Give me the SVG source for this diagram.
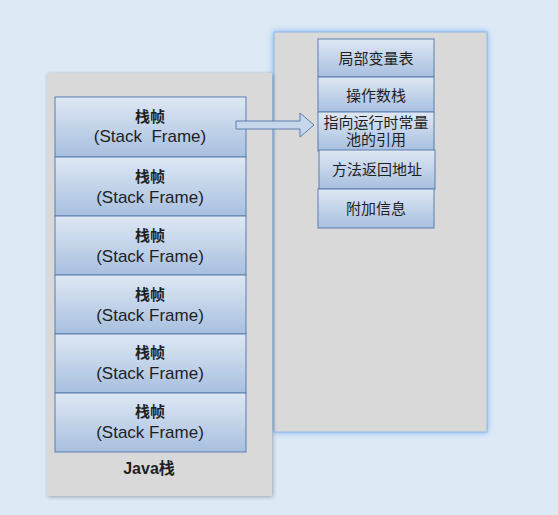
<svg xmlns="http://www.w3.org/2000/svg" width="558" height="515" viewBox="0 0 558 515">
<defs>
<linearGradient id="g" x1="0" y1="0" x2="0" y2="1">
<stop offset="0" stop-color="#dfe8f4"/>
<stop offset="1" stop-color="#a7bfdf"/>
</linearGradient>
<filter id="glow" x="-10%" y="-10%" width="120%" height="120%">
<feGaussianBlur in="SourceAlpha" stdDeviation="3"/>
<feFlood flood-color="#7fb2f0"/>
<feComposite operator="in" in2="SourceAlpha"/>
<feGaussianBlur stdDeviation="3"/>
<feMerge><feMergeNode/><feMergeNode in="SourceGraphic"/></feMerge>
</filter>
<filter id="sh" x="-10%" y="-10%" width="120%" height="120%">
<feGaussianBlur in="SourceAlpha" stdDeviation="2"/>
<feOffset dx="1" dy="1"/>
<feComponentTransfer><feFuncA type="linear" slope="0.3"/></feComponentTransfer>
<feMerge><feMergeNode/><feMergeNode in="SourceGraphic"/></feMerge>
</filter>
</defs>
<style>
.box{fill:url(#g);stroke:#5a7eaf;stroke-width:1}
.t{font-family:"Liberation Sans","Noto Sans CJK SC",sans-serif;fill:#1f1f1f;text-anchor:middle}
.zh{font-size:15px;font-weight:bold}
.en{font-size:17px}
.r{font-size:15px}
</style>
<rect width="558" height="515" fill="#dde9f5"/>
<g id="right-panel">
<rect x="274" y="32" width="213" height="400" fill="#d9d9d9" stroke="#8fb8ec" stroke-width="1" filter="url(#glow)"/>
</g>
<g id="left-panel">
<rect x="47" y="73" width="225" height="423" fill="#d9d9d9" filter="url(#sh)"/>
<text class="t" x="149" y="474" style="font-size:16px;font-weight:600">Java栈</text>
</g>
<g id="frame1"><rect class="box" x="55" y="97" width="191" height="60"/>
<text class="t zh" x="150" y="122">栈帧</text><text class="t en" x="150" y="142" xml:space="preserve">(Stack  Frame)</text></g>
<g id="frame2"><rect class="box" x="55" y="157" width="191" height="59"/>
<text class="t zh" x="150" y="182">栈帧</text><text class="t en" x="150" y="203">(Stack Frame)</text></g>
<g id="frame3"><rect class="box" x="55" y="216" width="191" height="59"/>
<text class="t zh" x="150" y="241">栈帧</text><text class="t en" x="150" y="262">(Stack Frame)</text></g>
<g id="frame4"><rect class="box" x="55" y="275" width="191" height="59"/>
<text class="t zh" x="150" y="300">栈帧</text><text class="t en" x="150" y="321">(Stack Frame)</text></g>
<g id="frame5"><rect class="box" x="55" y="334" width="191" height="59"/>
<text class="t zh" x="150" y="358">栈帧</text><text class="t en" x="150" y="379">(Stack Frame)</text></g>
<g id="frame6"><rect class="box" x="55" y="393" width="191" height="59"/>
<text class="t zh" x="150" y="417">栈帧</text><text class="t en" x="150" y="438">(Stack Frame)</text></g>
<g id="connectors">
<path d="M236,121 L300,121 L300,113 L314,125 L300,137 L300,129 L236,129 Z" fill="#c6d7ec" stroke="#5a7eaf" stroke-width="1"/>
</g>
<g id="local-vars"><rect class="box" x="318" y="39" width="116" height="38"/><text class="t r" x="376" y="64">局部变量表</text></g>
<g id="operand-stack"><rect class="box" x="318" y="77" width="116" height="35"/><text class="t r" x="376" y="101">操作数栈</text></g>
<g id="const-pool-ref"><rect class="box" x="318" y="112" width="116" height="39"/><text class="t r" x="376" y="128">指向运行时常量</text><text class="t r" x="376" y="145">池的引用</text></g>
<g id="return-addr"><rect class="box" x="319" y="150" width="116" height="39"/><text class="t r" x="377" y="175">方法返回地址</text></g>
<g id="extra-info"><rect class="box" x="318" y="189" width="116" height="39"/><text class="t r" x="376" y="214">附加信息</text></g>
</svg>
